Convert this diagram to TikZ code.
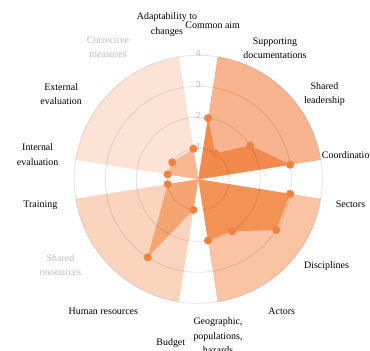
\documentclass[tikz,border=0pt]{standalone}
\usepackage{fontspec}
\setmainfont{Liberation Serif}
\newfontfamily\ticksfont{Liberation Sans}
\definecolor{wedgeA}{HTML}{F7B48E}
\definecolor{wedgeB}{HTML}{F9C3A4}
\definecolor{wedgeC}{HTML}{FBD4BE}
\definecolor{wedgeD}{HTML}{FDE3D6}
\definecolor{areaA}{HTML}{F28A4D}
\definecolor{areaB}{HTML}{F39255}
\definecolor{areaC}{HTML}{F5A474}
\definecolor{areaD}{HTML}{F8B693}
\definecolor{dotc}{HTML}{F0813F}
\definecolor{mutedtext}{HTML}{BDBDBD}
\tikzset{
  axislabel/.style={inner sep=0pt, align=center, font=\fontsize{10}{14.5}\selectfont},
  mutedlabel/.style={axislabel, text=mutedtext},
  ticklabel/.style={inner sep=0pt, text=mutedtext, font=\ticksfont\fontsize{9}{9}\selectfont},
  gridline/.style={draw=black, draw opacity=0.1, line width=0.9pt}
}
\begin{document}
\begin{tikzpicture}[x=1bp,y=1bp]
   \useasboundingbox (-198.3,-171.7) rectangle (171.7,179.3);

   % sectors of the four groups
   \foreach \a/\c in {81/wedgeA, -9/wedgeB, -99/wedgeC, -189/wedgeD} {
     \fill[\c] (0,0) -- (\a:124) arc[start angle=\a, end angle=\a-72, radius=124] -- cycle;
   }

   % scores
   \fill[areaA] (0,0) -- (81:62) -- (57:31) -- (33:62) -- (9:93) -- cycle;
   \fill[areaB] (0,0) -- (-9:93) -- (-33:93) -- (-57:62) -- (-81:62) -- cycle;
   \fill[areaC] (0,0) -- (-99:31) -- (-123:93) -- (-171:31) -- cycle;
   \fill[areaD] (0,0) -- (171:31) -- (147:31) -- (99:31) -- cycle;

   \foreach \r in {1,...,4} {
     \draw[gridline] (0,0) circle[radius=31*\r];
     \node[ticklabel] (tick\r) at (0,31*\r+1.5) {\r};
   }

   \foreach \p in {(81:62),(57:31),(33:62),(9:93),(-9:93),(-33:93),(-57:62),(-81:62),
                   (-99:31),(-123:93),(-171:31),(171:31),(147:31),(99:31)} {
     \fill[dotc] \p circle[radius=4];
   }

   \node[axislabel] (adapt) at (-31.3,154.8) {Adaptability to\\changes};
   \node[axislabel] (aim) at (14.4,154.3) {Common aim};
   \node[axislabel] (docs) at (76.7,131.3) {Supporting\\documentations};
   \node[axislabel] (lead) at (126.2,85.3) {Shared\\leadership};
   \node[axislabel, anchor=west] (coord) at (123.4,24.3) {Coordination};
   \node[axislabel] (sect) at (152.2,-24.7) {Sectors};
   \node[axislabel] (disc) at (128.2,-86.7) {Disciplines};
   \node[axislabel] (act) at (83.4,-132.4) {Actors};
   \node[axislabel] (geo) at (19.7,-156.4) {Geographic,\\populations,\\hazards};
   \node[axislabel] (budg) at (-27.5,-164) {Budget};
   \node[axislabel] (human) at (-95,-132.4) {Human resources};
   \node[mutedlabel] (shres) at (-137.8,-85.7) {Shared\\ressources};
   \node[axislabel] (train) at (-158,-25.7) {Training};
   \node[axislabel] (inteval) at (-160.6,24.6) {Internal\\evaluation};
   \node[axislabel] (exteval) at (-137.1,85.3) {External\\evaluation};
   \node[mutedlabel] (corr) at (-90.3,131.8) {Corrective\\measures};
\end{tikzpicture}
\end{document}
